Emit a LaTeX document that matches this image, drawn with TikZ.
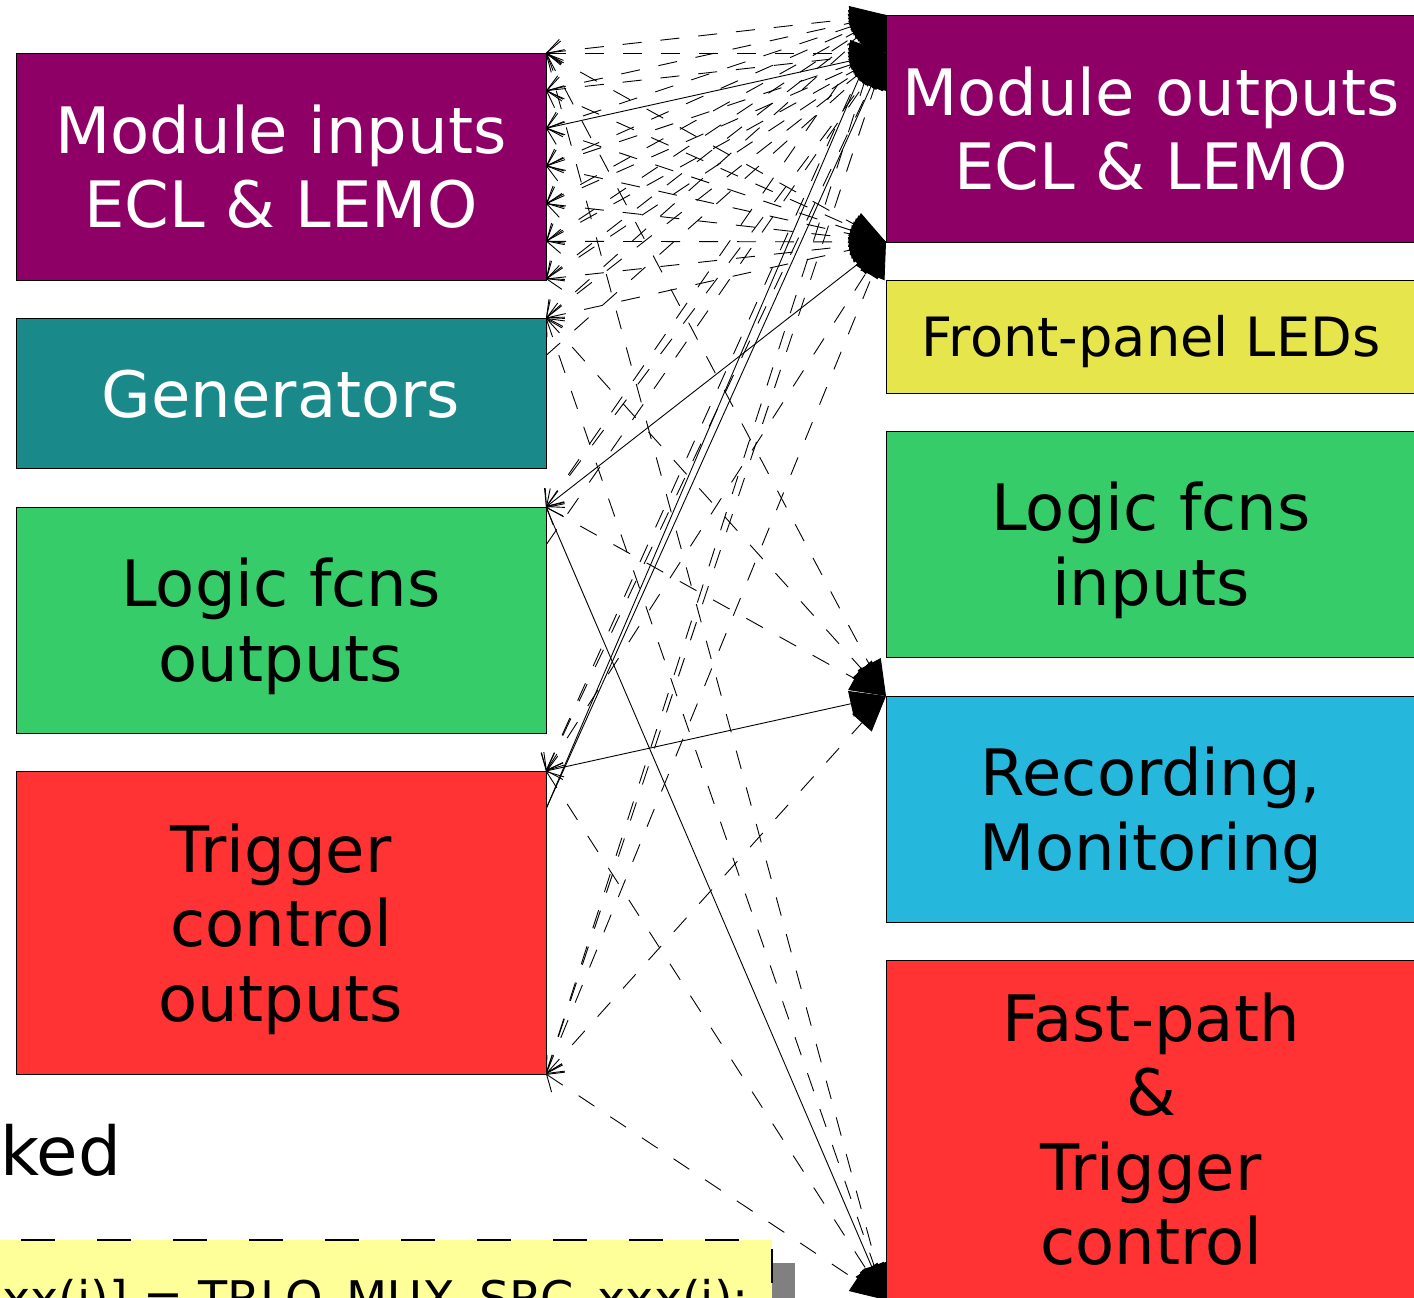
\documentclass[tikz,border=0pt]{standalone}
\usepackage{fontspec}
\setmainfont{DejaVu Sans}
\usetikzlibrary{arrows.meta}
\definecolor{cpurple}{RGB}{143,0,102}
\definecolor{cteal}{RGB}{26,137,137}
\definecolor{cgreen}{RGB}{54,204,106}
\definecolor{cred}{RGB}{255,51,51}
\definecolor{cyel}{RGB}{230,230,76}
\definecolor{cblue}{RGB}{38,183,220}
\definecolor{cpale}{RGB}{255,255,153}
\definecolor{cshadow}{RGB}{128,128,128}
\newcommand\dgbig{\fontsize{64pt}{74.5pt}\selectfont\lineskiplimit=-1000pt\lineskip=0pt}
\newcommand\dgmid{\fontsize{54.2pt}{62pt}\selectfont\lineskiplimit=-1000pt\lineskip=0pt}
\newcommand\dgked{\fontsize{67.5pt}{78pt}\selectfont}
\newcommand\dgcode{\fontsize{47.7pt}{56pt}\selectfont}
\newcommand\dgs{\rule[-15pt]{0pt}{78pt}}
\newcommand\dgsm{\rule[-13pt]{0pt}{66pt}}
\tikzset{
  box/.style={draw=black, line width=0.8pt, minimum width=530pt, inner sep=0pt, align=center, font=\dgbig},
  conn/.style={line width=0.9pt, {Straight Barb[length=14pt,width=24pt,line width=0.9pt]}-{Triangle[length=36pt,width=26pt]}},
  oneway/.style={line width=0.9pt, -{Triangle[length=36pt,width=26pt]}},
  dsh/.style={dash pattern=on 19pt off 19pt},
}
\begin{document}
\begin{tikzpicture}[x=1pt,y=-1pt]
\useasboundingbox (0,0) rectangle (1414,1298);
\clip (0,0) rectangle (1414,1298);
\fill[white] (0,0) rectangle (1414,1298);

% connection points
\foreach \i/\yy in {1/53,2/90.7,3/128.3,4/166,5/203.7,6/241.3,7/279}
  \coordinate (S\i) at (546,\yy);
\coordinate (G1) at (546,318);
\coordinate (G2) at (546,355.5);
\coordinate (L1) at (546,507);
\coordinate (L2) at (546,545);
\coordinate (T1) at (546,771);
\coordinate (T2) at (546,809);
\coordinate (T3) at (546,1074);
\coordinate (A) at (886,15);
\coordinate (B) at (886,53);
\coordinate (C) at (886,242);
\coordinate (D) at (886,696);
\coordinate (E) at (886,1300);

% connectors
\foreach \s in {S1,S2,S4,S5,S6,S7,G1,T3}
  \foreach \t in {A,B,C}
    \draw[conn,dsh] (\s) -- (\t);
\foreach \s in {S1,G1,T3}
  \foreach \t in {D,E}
    \draw[conn,dsh] (\s) -- (\t);
\foreach \t in {A,C} \draw[conn,dsh] (S3) -- (\t);
\draw[conn] (S3) -- (B);
\foreach \t in {A,B,D} \draw[conn,dsh] (L1) -- (\t);
\draw[conn] (L1) -- (C);
\draw[conn] (L1) -- (E);
\foreach \t in {A,B,C,E} \draw[conn,dsh] (T1) -- (\t);
\draw[conn] (T1) -- (D);
\draw[oneway,dsh] (G2) -- (B);
\draw[oneway,dsh] (L2) -- (B);
\draw[oneway] (T2) -- (A);
\draw[oneway] (T2) -- (B);

% left boxes
\node[box, fill=cpurple, text=white, minimum height=227pt] (mi) at (281,166.5) {\dgs Module inputs\\\dgs ECL \& LEMO};
\node[box, fill=cteal, text=white, minimum height=150pt] (gen) at (281,393) {\dgs Generators};
\node[box, fill=cgreen, minimum height=226pt] (lfo) at (281,620) {\dgs Logic fcns\\\dgs outputs};
\node[box, fill=cred, minimum height=303pt] (tco) at (281,922.5) {\dgs Trigger\\\dgs control\\\dgs outputs};

% right boxes
\node[box, fill=cpurple, text=white, minimum height=227pt] (mo) at (1151,128.5) {\dgs Module outputs\\\dgs ECL \& LEMO};
\node[box, fill=cyel, minimum height=113pt, font=\dgmid] (led) at (1151,336.5) {\dgsm Front-panel LEDs};
\node[box, fill=cgreen, minimum height=226pt] (lfi) at (1151,544) {\dgs Logic fcns\\\dgs inputs};
\node[box, fill=cblue, minimum height=226pt] (rec) at (1151,809) {\dgs Recording,\\\dgs Monitoring};
\node[box, fill=cred, minimum height=338pt] (fp) at (1151,1129) {\dgs Fast-path\\\dgs \&\\\dgs Trigger\\\dgs control};

% bottom left fragments
\node[anchor=base west, inner sep=0pt, font=\dgked] (ked) at (0,1175) {ked};
\fill[cshadow] (-40,1263) rectangle (795,1400);
\fill[cpale] (-60,1240) rectangle (772,1400);
\draw[line width=1.8pt, dash pattern=on 34pt off 42pt] (-55,1240) -- (772,1240) -- (772,1400);
\node[anchor=base east, inner sep=0pt, font=\dgcode] (code) at (749,1315) {xx(i)] = TRLO\_MUX\_SRC\_xxx(i);};
\end{tikzpicture}
\end{document}
